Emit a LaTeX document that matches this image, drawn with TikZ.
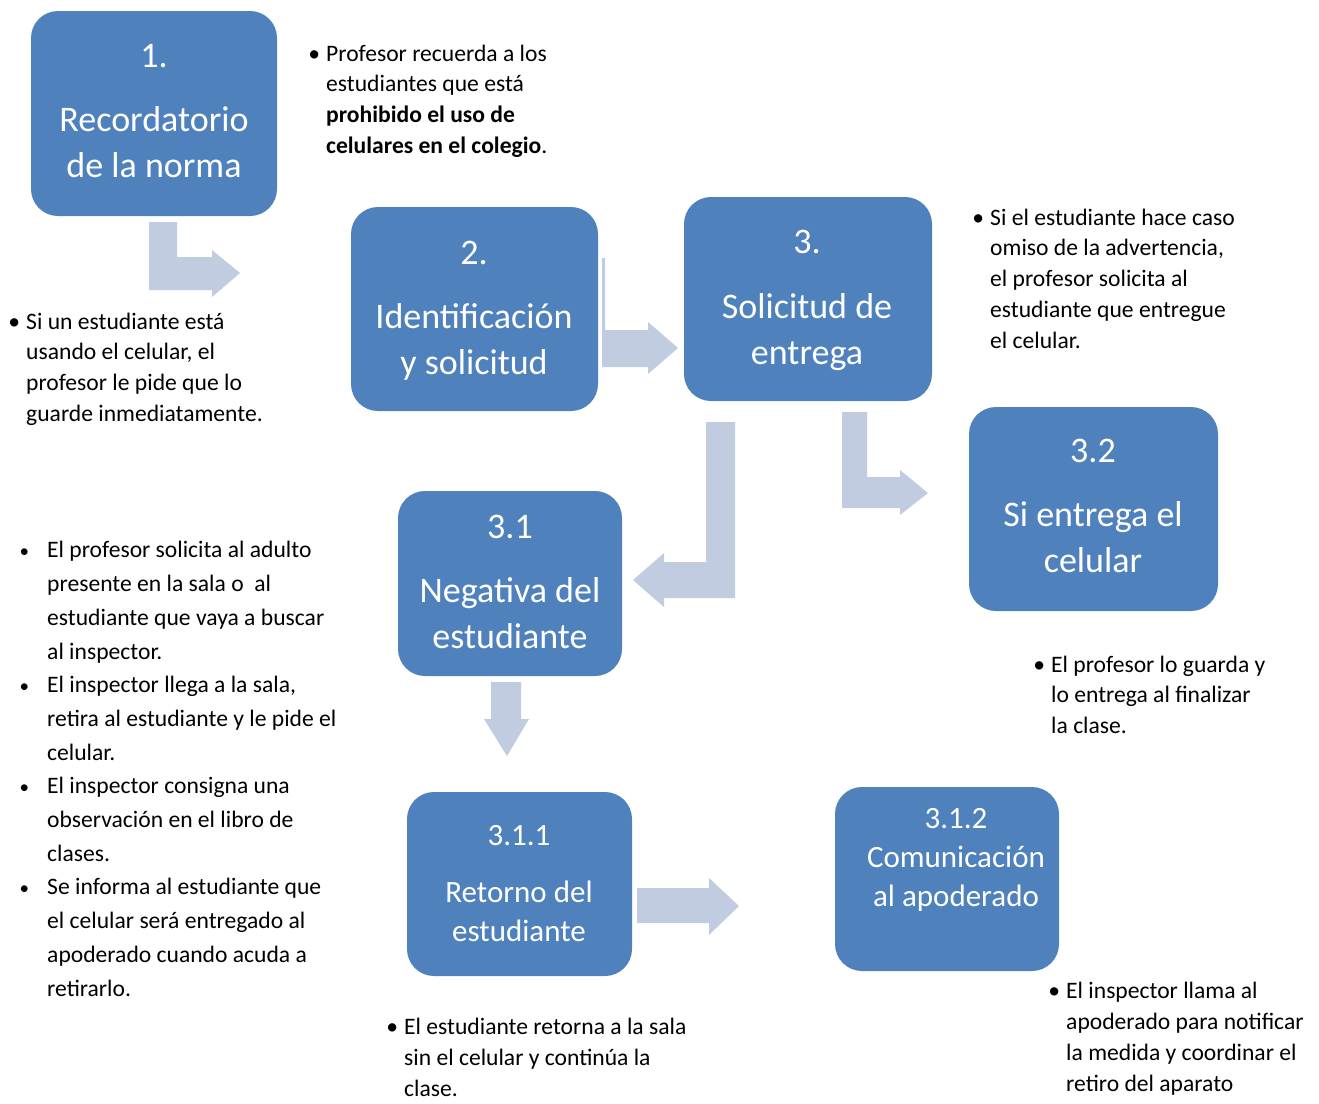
\documentclass[tikz,border=0pt]{standalone}
\usepackage{fontspec}
\setmainfont{Carlito}
\definecolor{boxblue}{RGB}{79,129,189}
\definecolor{arrowblue}{RGB}{193,204,225}
\tikzset{
  stepbox/.style={fill=boxblue, rounded corners=27pt, inner sep=0pt, draw=none},
  boxtxt/.style={text=white, align=center, anchor=base, inner sep=0pt, font=\fontsize{36}{46}\selectfont},
  boxtxtsm/.style={boxtxt, font=\fontsize{31}{39}\selectfont},
  note/.style={align=left, anchor=base west, inner sep=0pt, font=\fontsize{23.6}{30.8}\selectfont},
  notewide/.style={note, font=\fontsize{23.6}{33.7}\selectfont},
  blockarrow/.style={fill=arrowblue, draw=none}
}
\newcommand{\bul}{\llap{•\hspace{6pt}}}
\newcommand{\bulw}{\llap{{\fontsize{19}{19}\selectfont•}\hspace{18pt}}}
\begin{document}
\begin{tikzpicture}[x=1pt,y=-1pt]
\useasboundingbox (0,0) rectangle (1319,1103);
\fill[white] (0,0) rectangle (1319,1103);

% boxes
\node[stepbox, minimum width=246pt, minimum height=205pt] (b1) at (154,113.5) {};
\node[stepbox, minimum width=247pt, minimum height=204pt] (b2) at (474.5,309) {};
\node[stepbox, minimum width=248pt, minimum height=204pt] (b3) at (808,299) {};
\node[stepbox, minimum width=249pt, minimum height=204pt] (b32) at (1093.5,509) {};
\node[stepbox, minimum width=224pt, minimum height=185pt] (b31) at (510,583.5) {};
\node[stepbox, minimum width=225pt, minimum height=184pt] (b311) at (519.5,884) {};
\node[stepbox, minimum width=224pt, minimum height=184pt] (b312) at (947,879) {};

% box texts (anchor = baseline of the last line)
\node[boxtxt] (t1) at (154,177) {1.\\[18pt]Recordatorio\\de la norma};
\node[boxtxt] (t2) at (474,374) {2.\\[18pt]Identificación\\y solicitud};
\node[boxtxt] (t3) at (807,364) {3.\\[19pt]Solicitud de\\entrega};
\node[boxtxt] (t32) at (1093,572) {3.2\\[18pt]Si entrega el\\celular};
\node[boxtxt] (t31) at (510,648) {3.1\\[18pt]Negativa del\\estudiante};
\node[boxtxtsm] (t311) at (519,941) {3.1.1\\[18pt]Retorno del\\estudiante};
\node[boxtxtsm] (t312) at (956,906) {3.1.2\\Comunicación\\al apoderado};

% block arrows
\fill[blockarrow] (149,222) -- (177,222) -- (177,257) -- (212,257) -- (212,250) -- (240,273) -- (212,297) -- (212,290) -- (149,290) -- cycle;
\fill[blockarrow] (602,258) -- (605,258) -- (605,330) -- (648,330) -- (648,322) -- (678,348) -- (648,374) -- (648,367) -- (602,367) -- cycle;
\fill[blockarrow] (706,422) -- (735,422) -- (735,598) -- (664,598) -- (664,607) -- (633,580) -- (664,553) -- (664,562) -- (706,562) -- cycle;
\fill[blockarrow] (842,412) -- (867,412) -- (867,477) -- (900,477) -- (900,470) -- (928,493) -- (900,515) -- (900,508) -- (842,508) -- cycle;
\fill[blockarrow] (491,682) -- (521,682) -- (521,719) -- (529,719) -- (507,756) -- (484,719) -- (491,719) -- cycle;
\fill[blockarrow] (637,888) -- (709,888) -- (709,878) -- (739,906) -- (709,935) -- (709,923) -- (637,923) -- cycle;

% notes (anchor = baseline of the last line)
\node[note] (n1) at (326,153.4) {\bul Profesor recuerda a los\\estudiantes que está\\\textbf{prohibido el uso de}\\\textbf{celulares en el colegio}.};
\node[note] (n2) at (26,421.4) {\bul Si un estudiante está\\usando el celular, el\\profesor le pide que lo\\guarde inmediatamente.};
\node[note] (n3) at (990,348.2) {\bul Si el estudiante hace caso\\omiso de la advertencia,\\el profesor solicita al\\estudiante que entregue\\el celular.};
\node[notewide] (n4) at (47,996) {\bulw El profesor solicita al adulto\\presente en la sala o\ \ al\\estudiante que vaya a buscar\\al inspector.\\\bulw El inspector llega a la sala,\\retira al estudiante y le pide el\\celular.\\\bulw El inspector consigna una\\observación en el libro de\\clases.\\\bulw Se informa al estudiante que\\el celular será entregado al\\apoderado cuando acuda a\\retirarlo.};
\node[note] (n5) at (1051,733.6) {\bul El profesor lo guarda y\\lo entrega al finalizar\\la clase.};
\node[note] (n6) at (404,1096) {\bul El estudiante retorna a la sala\\sin el celular y continúa la\\clase.};
\node[note] (n7) at (1066,1091) {\bul El inspector llama al\\apoderado para notificar\\la medida y coordinar el\\retiro del aparato};
\end{tikzpicture}
\end{document}
